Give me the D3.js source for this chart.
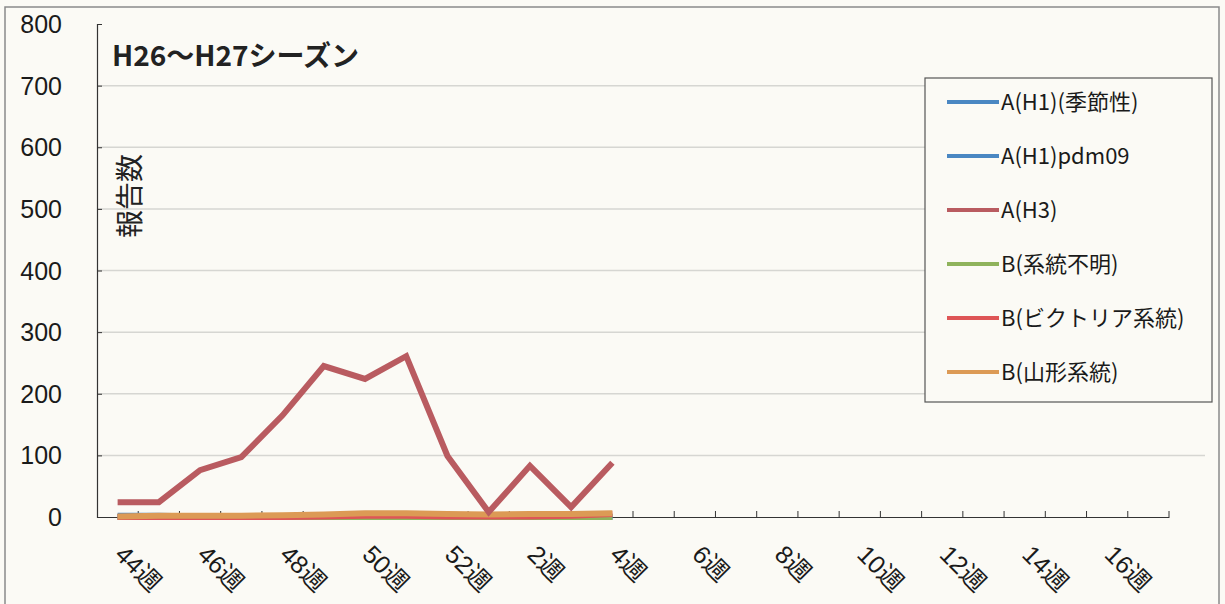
<!DOCTYPE html>
<html><head><meta charset="utf-8">
<script src="https://cdn.jsdelivr.net/npm/d3@7"></script>
<style>
html,body{margin:0;padding:0;background:#fbfaf5;}
svg{display:block;font-family:"Liberation Sans",Arial,"Noto Sans CJK JP",sans-serif;}
</style></head><body>
<svg id="c" width="1225" height="604"></svg>
<script>
const weeks = ["44","45","46","47","48","49","50","51","52","1","2","3","4","5","6","7","8","9","10","11","12","13","14","15","16","17"];
const tickLabels = ["44週","46週","48週","50週","52週","2週","4週","6週","8週","10週","12週","14週","16週"];
const yTicks = [0,100,200,300,400,500,600,700,800];
const seriesNames = ["A(H1)(季節性)","A(H1)pdm09","A(H3)","B(系統不明)","B(ビクトリア系統)","B(山形系統)"];
const colors = ["#4a87c2","#4a87c2","#b95b60","#8fb35c","#de5556","#dc9a55"];
const aH1season = [0,0,0,0,0,0,0,0,0,0,0,0,0];
const aH1pdm = [2,2,1,1,1,1,1,1,1,1,1,1,1];
const aH3 = [24,24,76,97,165,245,224,261,99,8,83,16,88];
const bUnknown = [0,0,0,0,0,0,0,0,0,0,0,0,0];
const bVictoria = [0,0,0,0,0,1,2,2,1,1,1,2,5];
const bYamagata = [1,2,2,2,3,4,6,6,5,4,5,5,6];
const seriesData = [aH1season,aH1pdm,aH3,bUnknown,bVictoria,bYamagata];

const svg = d3.select("#c");
const L = 97, R = 1169, T = 24, B = 517;
const x = d3.scaleBand().domain(weeks).range([L,R]).padding(0);
const y = d3.scaleLinear().domain([0,800]).range([B,T]);
const jp = "'Noto Sans CJK JP',sans-serif";

// outer frame
svg.append("path").attr("d","M5,604 L5,7 L1219,7 L1219,604")
  .attr("fill","none").attr("stroke","#8a8a8a").attr("stroke-width",1.5);

// gridlines
svg.append("g").selectAll("line").data(yTicks.filter(d=>d>0&&d<800)).join("line")
  .attr("x1",L).attr("x2",1205).attr("y1",d=>y(d)).attr("y2",d=>y(d))
  .attr("stroke","#d6d6d2").attr("stroke-width",1.5);

// y axis
const yAx = svg.append("g").attr("transform",`translate(${L},0)`)
  .call(d3.axisRight(y).tickValues(yTicks).tickSize(5).tickFormat(""));
yAx.select(".domain").attr("stroke","#333").attr("stroke-width",1.2);
yAx.selectAll(".tick line").attr("stroke","#333");
svg.append("g").selectAll("text").data(yTicks).join("text")
  .attr("x",62).attr("y",d=>y(d)).attr("dy","0.36em").attr("text-anchor","end")
  .attr("font-size",25).attr("fill","#1a1a1a").text(d=>d);

// x axis
const xAx = svg.append("g").attr("transform",`translate(0,${B})`)
  .call(d3.axisTop(x).tickValues([]).tickSizeOuter(0));
xAx.select(".domain").attr("stroke","#333").attr("stroke-width",1.2);
const bounds = d3.range(1,weeks.length+1).map(i=>L+i*x.bandwidth());
svg.append("g").selectAll("line").data(bounds).join("line")
  .attr("x1",d=>d).attr("x2",d=>d).attr("y1",B).attr("y2",B-6)
  .attr("stroke","#333").attr("stroke-width",1);

const labelWeeks = weeks.filter((w,i)=>i%2===0);
svg.append("g").selectAll("text").data(labelWeeks).join("text")
  .attr("transform",(d,i)=>`translate(${x(d)+x.bandwidth()/2-4},${556}) rotate(45)`)
  .attr("font-size",25).attr("fill","#1a1a1a").text((d,i)=>tickLabels[i]);

// lines
const line = d3.line().x((d,i)=>x(weeks[i])+x.bandwidth()/2).y(d=>y(d));
const drawOrder = [0,1,3,4,5,2];
drawOrder.forEach(k=>{
  svg.append("path").datum(seriesData[k]).attr("d",line)
    .attr("fill","none").attr("stroke",colors[k]).attr("stroke-width",6)
    .attr("stroke-linejoin","miter");
});

// title
svg.append("text").attr("x",112).attr("y",66).attr("font-size",28).attr("font-weight","bold")
  .attr("fill","#222").style("font-family",jp).text("H26～H27シーズン");

// vertical axis title
svg.append("text").attr("transform","translate(140,238) rotate(-90)")
  .style("font-family",jp).attr("font-size",28).attr("fill","#222").text("報告数");

// legend
svg.append("rect").attr("x",925).attr("y",78).attr("width",287).attr("height",324)
  .attr("fill","#fbfaf5").attr("stroke","#555").attr("stroke-width",1.2);
const lg = svg.append("g").selectAll("g").data(seriesNames).join("g")
  .attr("transform",(d,i)=>`translate(947,${102+i*54})`);
lg.append("line").attr("x1",0).attr("x2",52).attr("y1",0).attr("y2",0)
  .attr("stroke",(d,i)=>colors[i]).attr("stroke-width",4);
lg.append("text").attr("x",54).attr("y",0).attr("dy","0.36em").attr("font-size",22)
  .attr("fill","#1a1a1a").style("font-family",jp).text(d=>d);
</script>
</body></html>
